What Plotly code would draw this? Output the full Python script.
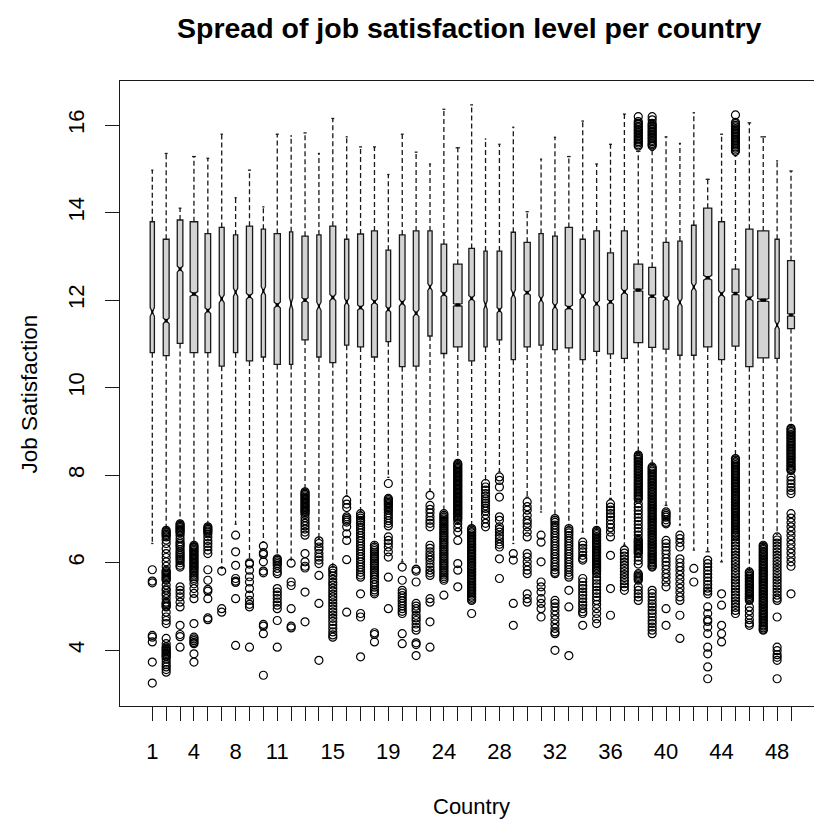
import math
import plotly.graph_objects as go

# Countries present in the survey (7 and 23 have no respondents)
countries = ["1", "2", "3", "4", "5", "6", "8", "9", "10", "11", "12", "13", "14", "15",
             "16", "17", "18", "19", "20", "21", "22", "24", "25", "26", "27", "28", "29",
             "30", "31", "32", "33", "34", "35", "36", "37", "38", "39", "40", "41", "42",
             "43", "44", "45", "46", "47", "48", "49"]
# Labels that fit on the axis without overlapping
labelled = ["1", "4", "8", "11", "15", "19", "24", "28", "32", "36", "40", "44", "48"]

# Respondents per country (sets box width and notch size)
n_resp = [2250, 4380, 3950, 7215, 3950, 3040, 2250, 4830, 2250, 4830, 1325, 4830, 2250, 4380,
          2250, 4380, 4380, 2690, 3950, 3950, 2250, 3950, 9210, 3950, 1325, 2690, 2250, 4830,
          2250, 2690, 6485, 3420, 3950, 4380, 4380, 9860, 5960, 3950, 2250, 2690, 8380, 4380,
          5960, 6485, 15540, 2250, 5960]

upper_whisker = [14.97, 15.35, 14.10, 15.28, 15.24, 15.79, 14.34, 14.97, 14.13, 15.79, 15.75, 15.82,
                 15.35, 16.15, 15.73, 15.50, 15.50, 14.87, 15.79, 15.38, 15.11, 16.36, 15.48, 16.46,
                 15.68, 15.56, 15.95, 14.02, 15.22, 15.72, 15.28, 16.09, 15.11, 15.56, 16.25, 15.40,
                 15.42, 15.73, 15.58, 16.28, 14.76, 15.79, 15.30, 16.05, 15.73, 15.18, 14.95]
q3 = [13.79, 13.39, 13.83, 13.79, 13.52, 13.66, 13.49, 13.69, 13.62, 13.52, 13.56, 13.46,
      13.49, 13.69, 13.39, 13.51, 13.58, 13.14, 13.49, 13.58, 13.58, 13.28, 12.82, 13.18,
      13.12, 13.12, 13.55, 13.32, 13.52, 13.46, 13.66, 13.39, 13.58, 13.08, 13.58, 12.82,
      12.75, 13.32, 13.35, 13.71, 14.10, 13.79, 12.71, 13.62, 13.58, 13.39, 12.90]
median = [11.73, 11.53, 12.71, 12.14, 11.76, 12.03, 12.18, 12.09, 12.21, 11.89, 11.92, 12.00,
          11.86, 12.06, 11.96, 11.83, 11.96, 11.79, 11.94, 11.70, 12.30, 12.14, 11.89, 12.04,
          11.89, 11.77, 12.14, 12.17, 12.02, 11.86, 11.83, 12.09, 11.92, 11.96, 12.19, 12.23,
          12.09, 12.04, 11.95, 12.30, 12.51, 12.14, 12.15, 12.04, 12.00, 11.43, 11.66]
q1 = [10.80, 10.73, 11.01, 10.80, 10.80, 10.49, 10.80, 10.61, 10.70, 10.53, 10.53, 11.09,
      10.70, 10.57, 10.97, 10.93, 10.70, 11.05, 10.48, 10.49, 11.18, 10.78, 10.93, 10.61,
      10.93, 11.09, 10.64, 10.93, 10.97, 10.87, 10.91, 10.64, 10.83, 10.77, 10.67, 11.03,
      10.92, 10.88, 10.74, 10.74, 10.93, 10.64, 10.95, 10.48, 10.68, 10.67, 11.35]
lower_whisker = [6.44, 6.78, 6.93, 6.44, 6.86, 5.87, 6.88, 6.06, 6.48, 6.15, 6.06, 7.66,
                 6.55, 5.90, 7.54, 7.16, 6.44, 7.95, 6.02, 5.94, 7.66, 7.16, 8.30, 6.82,
                 7.89, 8.08, 6.44, 7.50, 7.16, 7.05, 6.82, 6.70, 6.78, 7.47, 6.40, 8.50,
                 8.23, 7.31, 6.86, 6.29, 6.25, 6.02, 8.42, 5.83, 6.44, 6.65, 9.10]

# Values beyond the whiskers, one list per country
outliers = [
    [5.84, 5.58, 5.54, 4.34, 4.30, 4.19, 3.73, 3.25],
    [6.74, 6.71, 6.68, 6.65, 6.62, 6.59, 6.52, 6.44, 6.32, 6.21, 6.12, 6.02, 5.92, 5.83, 5.80,
     5.77, 5.74, 5.71, 5.68, 5.65, 5.62, 5.60, 5.49, 5.40, 5.37, 5.30, 5.26, 5.18, 5.10, 5.07,
     5.04, 5.01, 4.99, 4.87, 4.76, 4.68, 4.61, 4.27, 4.15, 4.08, 4.05, 4.02, 3.99, 3.96, 3.93,
     3.90, 3.87, 3.85, 3.80, 3.73, 3.67, 3.62, 3.56, 3.50],
    [6.89, 6.86, 6.83, 6.80, 6.77, 6.74, 6.71, 6.68, 6.62, 6.55, 6.48, 6.44, 6.40, 6.36, 6.30,
     6.25, 6.21, 6.17, 6.13, 6.09, 6.05, 6.00, 5.94, 5.90, 5.45, 5.37, 5.30, 5.22, 5.10, 4.99,
     4.57, 4.36, 4.31, 4.07],
    [6.40, 6.37, 6.34, 6.31, 6.28, 6.25, 6.22, 6.19, 6.16, 6.13, 6.10, 6.07, 6.04, 6.01, 5.98,
     5.95, 5.92, 5.89, 5.86, 5.83, 5.80, 5.76, 5.72, 5.68, 5.64, 5.60, 5.52, 5.41, 5.30, 5.18,
     4.61, 4.30, 4.26, 4.22, 4.18, 4.15, 3.92, 3.73],
    [6.82, 6.79, 6.76, 6.73, 6.70, 6.66, 6.59, 6.51, 6.44, 6.37, 6.29, 6.21, 5.84, 5.60, 5.39,
     5.35, 5.18, 4.74, 4.70],
    [5.81, 4.95, 4.87],
    [6.63, 6.25, 5.94, 5.64, 5.58, 5.55, 5.18, 4.11],
    [6.00, 5.97, 5.83, 5.68, 5.56, 5.41, 5.26, 5.14, 5.05, 4.99, 4.07],
    [6.38, 6.23, 6.19, 6.02, 5.81, 5.77, 4.59, 4.55, 4.38, 3.43],
    [6.09, 6.06, 6.02, 5.98, 5.94, 5.87, 5.80, 5.75, 5.41, 5.33, 5.26, 5.18, 5.10, 5.03, 4.95,
     4.68, 4.07],
    [5.99, 5.56, 5.48, 4.95, 4.55, 4.51],
    [7.62, 7.59, 7.56, 7.53, 7.50, 7.47, 7.44, 7.41, 7.38, 7.35, 7.32, 7.29, 7.26, 7.23, 7.20,
     7.17, 7.14, 7.10, 7.03, 6.96, 6.90, 6.84, 6.77, 6.70, 6.63, 6.21, 6.02, 5.92, 5.88, 5.33,
     4.65],
    [6.50, 6.44, 6.36, 6.30, 6.21, 6.13, 6.06, 5.98, 5.71, 5.07, 3.77],
    [5.87, 5.82, 5.76, 5.70, 5.62, 5.55, 5.49, 5.42, 5.35, 5.28, 5.22, 5.15, 5.08, 5.01, 4.94,
     4.87, 4.80, 4.73, 4.66, 4.58, 4.50, 4.42, 4.35, 4.30],
    [7.43, 7.34, 7.26, 7.05, 7.01, 6.97, 6.93, 6.82, 6.66, 6.51, 6.07, 4.87],
    [7.12, 7.07, 7.02, 6.97, 6.92, 6.86, 6.80, 6.74, 6.68, 6.62, 6.56, 6.50, 6.44, 6.38, 6.32,
     6.26, 6.20, 6.14, 6.08, 6.02, 5.96, 5.90, 5.84, 5.78, 5.72, 5.67, 5.29, 4.84, 4.76, 3.85],
    [6.40, 6.36, 6.32, 6.28, 6.24, 6.20, 6.16, 6.12, 6.08, 6.04, 6.00, 5.96, 5.92, 5.88, 5.84,
     5.80, 5.76, 5.72, 5.68, 5.62, 5.56, 5.50, 5.44, 5.38, 5.33, 5.29, 4.40, 4.36, 4.19],
    [7.81, 7.47, 7.44, 7.41, 7.38, 7.35, 7.32, 7.28, 7.24, 7.20, 7.14, 7.08, 7.02, 6.96, 6.90,
     6.84, 6.59, 6.51, 6.44, 6.36, 6.25, 6.13, 5.67, 4.95],
    [5.90, 5.60, 5.37, 5.31, 5.25, 5.19, 5.13, 5.07, 5.01, 4.95, 4.89, 4.84, 4.38, 4.15],
    [5.85, 5.81, 5.56, 5.07, 5.01, 4.95, 4.89, 4.80, 4.74, 4.68, 4.60, 4.52, 4.46, 4.17, 4.13,
     3.88],
    [7.54, 7.31, 7.22, 7.14, 7.05, 6.97, 6.90, 6.82, 6.40, 6.33, 6.25, 6.18, 6.12, 6.06, 5.98,
     5.90, 5.83, 5.77, 5.71, 5.18, 5.10, 4.65, 4.07],
    [7.12, 7.08, 7.04, 7.00, 6.96, 6.92, 6.88, 6.84, 6.80, 6.76, 6.72, 6.68, 6.64, 6.60, 6.56,
     6.52, 6.48, 6.44, 6.40, 6.36, 6.32, 6.28, 6.24, 6.20, 6.16, 6.12, 6.08, 6.04, 6.00, 5.96,
     5.92, 5.88, 5.84, 5.80, 5.76, 5.72, 5.68, 5.64, 5.60, 5.26],
    [8.27, 8.24, 8.21, 8.18, 8.15, 8.12, 8.09, 8.06, 8.03, 8.00, 7.97, 7.94, 7.91, 7.88, 7.85,
     7.82, 7.79, 7.76, 7.73, 7.70, 7.67, 7.64, 7.61, 7.58, 7.55, 7.52, 7.49, 7.46, 7.43, 7.40,
     7.37, 7.34, 7.31, 7.28, 7.25, 7.22, 7.19, 7.16, 7.13, 7.10, 7.07, 7.04, 7.01, 6.97, 6.89,
     6.80, 6.70, 6.51, 5.98, 5.83, 5.45],
    [6.78, 6.75, 6.71, 6.68, 6.64, 6.61, 6.57, 6.54, 6.50, 6.47, 6.43, 6.40, 6.36, 6.33, 6.29,
     6.26, 6.22, 6.19, 6.15, 6.12, 6.08, 6.05, 6.01, 5.98, 5.94, 5.91, 5.87, 5.84, 5.80, 5.77,
     5.73, 5.70, 5.66, 5.63, 5.59, 5.56, 5.52, 5.49, 5.45, 5.42, 5.38, 5.35, 5.31, 5.28, 5.24,
     5.21, 5.17, 5.14, 4.84],
    [7.81, 7.73, 7.66, 7.58, 7.52, 7.46, 7.41, 7.36, 7.30, 7.24, 7.18, 7.10, 7.00, 6.90, 6.82],
    [7.96, 7.88, 7.73, 7.50, 7.05, 6.97, 6.82, 6.76, 6.70, 6.62, 6.55, 6.48, 6.42, 6.36, 6.09,
     5.64],
    [6.21, 6.06, 5.07, 4.57],
    [7.39, 7.28, 7.20, 7.08, 6.97, 6.90, 6.82, 6.70, 6.59, 6.21, 6.13, 6.02, 5.92, 5.83, 5.75,
     5.29, 5.18, 5.10],
    [6.63, 6.47, 6.02, 5.56, 5.45, 5.33, 5.18, 5.07, 4.95, 4.76],
    [7.01, 6.97, 6.92, 6.86, 6.80, 6.74, 6.68, 6.62, 6.56, 6.50, 6.44, 6.38, 6.32, 6.26, 6.20,
     6.14, 6.08, 6.02, 5.96, 5.90, 5.84, 5.78, 5.75, 5.14, 5.07, 4.99, 4.90, 4.80, 4.70, 4.60,
     4.50, 4.42, 4.38, 4.00],
    [6.78, 6.73, 6.68, 6.62, 6.56, 6.50, 6.44, 6.38, 6.32, 6.26, 6.20, 6.14, 6.08, 6.02, 5.96,
     5.90, 5.84, 5.78, 5.72, 5.67, 5.37, 4.99, 3.88],
    [6.47, 6.40, 6.33, 6.25, 6.17, 6.10, 6.06, 5.64, 5.56, 5.48, 5.41, 5.33, 5.26, 5.18, 5.10,
     5.03, 4.95, 4.88, 4.84, 4.57],
    [6.74, 6.71, 6.67, 6.64, 6.60, 6.57, 6.53, 6.50, 6.46, 6.43, 6.39, 6.36, 6.32, 6.29, 6.25,
     6.22, 6.18, 6.15, 6.11, 6.08, 6.04, 6.01, 5.97, 5.94, 5.90, 5.87, 5.83, 5.80, 5.75, 5.67,
     5.60, 5.52, 5.45, 5.37, 5.30, 5.22, 5.14, 5.05, 4.95, 4.84, 4.72, 4.61],
    [7.35, 7.27, 7.20, 7.12, 7.05, 6.97, 6.88, 6.80, 6.70, 6.59, 6.17, 5.41, 4.80],
    [6.29, 6.22, 6.15, 6.08, 6.01, 5.94, 5.87, 5.80, 5.73, 5.66, 5.59, 5.52, 5.45, 5.37],
    [16.19, 16.08, 16.04, 16.01, 15.97, 15.94, 15.90, 15.87, 15.83, 15.80, 15.76, 15.73, 15.69,
     15.66, 15.62, 15.59, 15.55, 15.52,
     8.46, 8.43, 8.39, 8.36, 8.32, 8.29, 8.25, 8.22, 8.18, 8.15, 8.11, 8.08, 8.04, 8.01, 7.97,
     7.94, 7.90, 7.87, 7.83, 7.80, 7.76, 7.73, 7.69, 7.66, 7.62, 7.59, 7.55, 7.52, 7.48, 7.45,
     7.35, 7.27, 7.19, 7.11, 7.03, 6.95, 6.87, 6.79, 6.71, 6.63, 6.55, 6.51, 6.48, 6.45, 6.42,
     6.39, 6.36, 6.33, 6.30, 6.27, 6.24, 6.21, 6.13, 6.05, 5.97, 5.75, 5.72, 5.69, 5.66, 5.63,
     5.60, 5.45, 5.37, 5.29, 5.22, 5.14],
    [16.19, 16.12, 16.04, 16.00, 15.97, 15.93, 15.90, 15.86, 15.83, 15.79, 15.76, 15.72, 15.69,
     15.65, 15.62, 15.58, 15.55, 15.52,
     8.19, 8.16, 8.12, 8.09, 8.05, 8.02, 7.98, 7.95, 7.91, 7.88, 7.84, 7.81, 7.77, 7.74, 7.70,
     7.67, 7.63, 7.60, 7.56, 7.53, 7.49, 7.46, 7.42, 7.39, 7.35, 7.32, 7.28, 7.25, 7.21, 7.18,
     7.14, 7.11, 7.07, 7.04, 7.00, 6.97, 6.93, 6.90, 6.86, 6.83, 6.79, 6.76, 6.72, 6.69, 6.65,
     6.62, 6.58, 6.55, 6.51, 6.48, 6.44, 6.41, 6.37, 6.34, 6.30, 6.27, 6.23, 6.20, 6.16, 6.13,
     6.09, 6.06, 6.02, 5.99, 5.95, 5.92, 5.90, 5.37, 5.30, 5.22, 5.14, 5.06, 4.99, 4.91, 4.84,
     4.76, 4.68, 4.61, 4.53, 4.46, 4.38],
    [7.16, 7.12, 7.08, 7.04, 6.98, 6.92, 6.89, 6.51, 6.44, 6.36, 6.28, 6.20, 6.10, 6.02, 5.94,
     5.85, 5.75, 5.66, 5.56, 5.45, 4.95, 4.57],
    [6.63, 6.55, 6.46, 6.36, 6.09, 6.00, 5.91, 5.82, 5.72, 5.62, 5.52, 5.42, 5.32, 5.22, 5.14,
     4.80, 4.27],
    [5.87, 5.56],
    [6.06, 5.98, 5.90, 5.82, 5.74, 5.66, 5.58, 5.50, 5.42, 5.35, 5.29, 4.99, 4.84, 4.70, 4.66,
     4.53, 4.38, 4.07, 3.92, 3.62, 3.35],
    [5.29, 5.03, 4.57, 4.38, 4.19],
    [16.23, 16.06, 16.03, 15.99, 15.96, 15.92, 15.89, 15.85, 15.82, 15.78, 15.75, 15.71, 15.68,
     15.64, 15.61, 15.57, 15.54, 15.50, 15.47, 15.43, 15.40,
     8.38, 8.35, 8.31, 8.28, 8.24, 8.21, 8.17, 8.14, 8.10, 8.07, 8.03, 8.00, 7.96, 7.93, 7.89,
     7.86, 7.82, 7.79, 7.75, 7.72, 7.68, 7.65, 7.61, 7.58, 7.54, 7.51, 7.47, 7.44, 7.40, 7.37,
     7.33, 7.30, 7.26, 7.23, 7.19, 7.16, 7.12, 7.09, 7.05, 7.02, 6.98, 6.95, 6.91, 6.88, 6.84,
     6.81, 6.77, 6.74, 6.70, 6.67, 6.63, 6.59, 6.52, 6.45, 6.38, 6.31, 6.24, 6.17, 6.10, 6.03,
     5.96, 5.89, 5.82, 5.75, 5.68, 5.61, 5.54, 5.47, 5.40, 5.33, 5.26, 5.19, 5.12, 5.05, 4.98,
     4.91, 4.84],
    [5.79, 5.76, 5.72, 5.69, 5.65, 5.62, 5.58, 5.55, 5.51, 5.48, 5.44, 5.41, 5.37, 5.34, 5.30,
     5.27, 5.23, 5.20, 5.17, 5.14, 4.99, 4.90, 4.80, 4.70, 4.62, 4.57],
    [6.40, 6.37, 6.33, 6.30, 6.26, 6.23, 6.19, 6.16, 6.12, 6.09, 6.05, 6.02, 5.98, 5.95, 5.91,
     5.88, 5.84, 5.81, 5.77, 5.74, 5.70, 5.67, 5.63, 5.60, 5.56, 5.53, 5.49, 5.46, 5.42, 5.39,
     5.35, 5.32, 5.28, 5.25, 5.21, 5.18, 5.14, 5.11, 5.07, 5.04, 5.00, 4.97, 4.93, 4.90, 4.86,
     4.83, 4.79, 4.76, 4.72, 4.69, 4.65, 4.62, 4.58, 4.55, 4.51, 4.48, 4.46],
    [6.59, 6.52, 6.45, 6.38, 6.31, 6.24, 6.17, 6.10, 6.03, 5.96, 5.89, 5.82, 5.75, 5.68, 5.61,
     5.54, 5.47, 5.40, 5.33, 5.26, 5.19, 5.14, 4.76, 4.07, 3.99, 3.90, 3.84, 3.77, 3.35],
    [9.07, 9.04, 9.00, 8.97, 8.93, 8.90, 8.86, 8.83, 8.79, 8.76, 8.72, 8.69, 8.65, 8.62, 8.58,
     8.55, 8.51, 8.48, 8.44, 8.41, 8.37, 8.34, 8.30, 8.27, 8.23, 8.20, 8.16, 8.13, 8.11, 7.96,
     7.88, 7.80, 7.72, 7.65, 7.58, 7.12, 7.02, 6.92, 6.82, 6.72, 6.62, 6.52, 6.42, 6.32, 6.22,
     6.12, 6.02, 5.92, 5.29],
]

FONT = "Liberation Sans, Arial, sans-serif"
BOX_FILL = "#D3D3D3"
INK = "#1a1a1a"
n_max = max(n_resp)
positions = list(range(1, len(countries) + 1))

fig = go.Figure()

whisk_x, whisk_y = [], []
staple_x, staple_y = [], []
med_x, med_y = [], []
out_x, out_y = [], []

for i, pos in enumerate(positions):
    # R-style variable width and notch (median +/- 1.58 IQR / sqrt(n))
    w = 0.8 * math.sqrt(n_resp[i] / n_max)
    notch = 1.58 * (q3[i] - q1[i]) / math.sqrt(n_resp[i])
    fig.add_trace(go.Box(
        x=[pos], q1=[q1[i]], median=[median[i]], q3=[q3[i]],
        lowerfence=[q1[i]], upperfence=[q3[i]],
        notched=True, notchspan=[notch], notchwidth=0.5,
        width=w, whiskerwidth=0, boxpoints=False,
        fillcolor=BOX_FILL, line=dict(color=INK, width=1.3),
        hoverinfo="skip", showlegend=False,
    ))
    whisk_x += [pos, pos, None, pos, pos, None]
    whisk_y += [q3[i], upper_whisker[i], None, q1[i], lower_whisker[i], None]
    half = w / 4
    staple_x += [pos - half, pos + half, None, pos - half, pos + half, None]
    staple_y += [upper_whisker[i], upper_whisker[i], None, lower_whisker[i], lower_whisker[i], None]
    med_x += [pos - half, pos + half, None]
    med_y += [median[i], median[i], None]
    out_x += [pos] * len(outliers[i])
    out_y += outliers[i]

fig.add_trace(go.Scatter(x=whisk_x, y=whisk_y, mode="lines",
                         line=dict(color=INK, width=1.3, dash="5px,3px"),
                         hoverinfo="skip", showlegend=False))
fig.add_trace(go.Scatter(x=staple_x, y=staple_y, mode="lines",
                         line=dict(color=INK, width=1.3),
                         hoverinfo="skip", showlegend=False))
fig.add_trace(go.Scatter(x=med_x, y=med_y, mode="lines",
                         line=dict(color="black", width=3.5),
                         hoverinfo="skip", showlegend=False))
fig.add_trace(go.Scatter(x=out_x, y=out_y, mode="markers",
                         marker=dict(symbol="circle-open", size=8, color="black",
                                     line=dict(width=1.2, color="black")),
                         hoverinfo="skip", showlegend=False))

ticktext = [c if c in labelled else "" for c in countries]

fig.update_layout(
    width=814, height=823,
    margin=dict(l=120, r=0, t=81, b=117),
    paper_bgcolor="white", plot_bgcolor="white",
    boxmode="overlay",
    font=dict(family=FONT, size=22, color="black"),
    showlegend=False,
    annotations=[
        dict(text="<b>Spread of job satisfaction level per country</b>",
             xref="paper", yref="paper", x=0.504, y=1.0848,
             xanchor="center", yanchor="middle", showarrow=False,
             font=dict(family=FONT, size=28.5, color="black")),
        dict(text="Country", xref="paper", yref="paper", x=0.507, y=-0.1606,
             xanchor="center", yanchor="middle", showarrow=False,
             font=dict(family=FONT, size=22, color="black")),
        dict(text="Job Satisfaction", xref="paper", yref="paper", x=-0.1297, y=0.5,
             xanchor="center", yanchor="middle", showarrow=False, textangle=-90,
             font=dict(family=FONT, size=22.5, color="black")),
    ],
)

fig.update_xaxes(
    range=[-1.326, 48.656], tickmode="array", tickvals=positions, ticktext=ticktext,
    ticks="outside", ticklen=14, tickwidth=1.3, tickcolor=INK,
    showline=True, linecolor=INK, linewidth=1.3, mirror=True,
    showgrid=False, zeroline=False, ticklabelstandoff=11,
    tickfont=dict(family=FONT, size=22, color="black"),
)
fig.update_yaxes(
    range=[2.727, 17.006], tickmode="array", tickvals=[4, 6, 8, 10, 12, 14, 16],
    ticks="outside", ticklen=14, tickwidth=1.3, tickcolor=INK, tickangle=-90,
    showline=True, linecolor=INK, linewidth=1.3, mirror=False,
    showgrid=False, zeroline=False, ticklabelstandoff=12,
    tickfont=dict(family=FONT, size=22, color="black"),
)

fig.write_html("out.html")
